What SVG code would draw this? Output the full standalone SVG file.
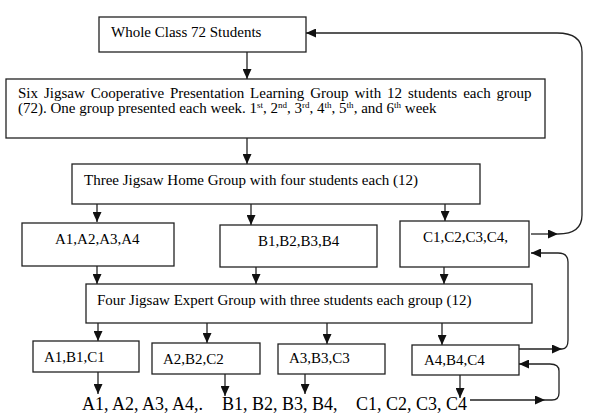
<svg xmlns="http://www.w3.org/2000/svg" width="592" height="413" viewBox="0 0 592 413">
<style>
.box{fill:#fff;stroke:#222;stroke-width:1.3}
.t{font-family:"Liberation Serif","Times New Roman",serif;font-size:15px;fill:#000}
.big{font-family:"Liberation Serif","Times New Roman",serif;font-size:18px;fill:#000}
.sup{font-size:9px}
.c{fill:none;stroke:#222;stroke-width:1.3}
</style>
<defs>
<marker id="ah" markerUnits="userSpaceOnUse" markerWidth="10" markerHeight="9" refX="10" refY="4.5" orient="auto" viewBox="0 0 10 9">
<path d="M0,0 L10,4.5 L0,9 z" fill="#111"/>
</marker>
</defs>
<rect width="592" height="413" fill="#fff"/>
<g id="connectors">
<line class="c" x1="247" y1="52" x2="247" y2="79" marker-end="url(#ah)"/>
<line class="c" x1="247" y1="138" x2="247" y2="164" marker-end="url(#ah)"/>
<line class="c" x1="97" y1="204" x2="97" y2="222" marker-end="url(#ah)"/>
<line class="c" x1="251" y1="204" x2="251" y2="225" marker-end="url(#ah)"/>
<line class="c" x1="445" y1="204" x2="445" y2="221" marker-end="url(#ah)"/>
<line class="c" x1="97" y1="266" x2="97" y2="284" marker-end="url(#ah)"/>
<line class="c" x1="256" y1="267" x2="256" y2="284" marker-end="url(#ah)"/>
<line class="c" x1="444" y1="267" x2="444" y2="284" marker-end="url(#ah)"/>
<line class="c" x1="98" y1="323" x2="98" y2="341" marker-end="url(#ah)"/>
<line class="c" x1="207" y1="323" x2="207" y2="343" marker-end="url(#ah)"/>
<line class="c" x1="327" y1="323" x2="327" y2="344" marker-end="url(#ah)"/>
<line class="c" x1="442" y1="323" x2="442" y2="345" marker-end="url(#ah)"/>
<line class="c" x1="98" y1="372" x2="98" y2="394" marker-end="url(#ah)"/>
<line class="c" x1="225" y1="374" x2="225" y2="396" marker-end="url(#ah)"/>
<line class="c" x1="305" y1="374" x2="305" y2="394" marker-end="url(#ah)"/>
<line class="c" x1="460" y1="375" x2="460" y2="398" marker-end="url(#ah)"/>
<line class="c" x1="531" y1="234" x2="558" y2="234" marker-end="url(#ah)"/>
<path class="c" d="M558,234 Q582,234 582,215 V52 Q582,33 557,33 H306" marker-end="url(#ah)"/>
<line class="c" x1="519" y1="349" x2="562" y2="349" marker-end="url(#ah)"/>
<path class="c" d="M562,349 Q568,349 568,340 V262 Q568,253 558,253 H531" marker-end="url(#ah)"/>
<line class="c" x1="470" y1="400" x2="545" y2="400" marker-end="url(#ah)"/>
<path class="c" d="M545,400 H552 Q559,400 559,393 V371 Q559,364 550,364 H519" marker-end="url(#ah)"/>
</g>
<g id="whole-class">
<rect class="box" x="99" y="17" width="207" height="35"/>
<text class="t" x="111" y="37">Whole Class 72 Students</text>
</g>
<g id="six-jigsaw">
<rect class="box" x="6" y="79" width="539" height="59"/>
<text class="t" x="18" y="98" word-spacing="2.2">Six Jigsaw Cooperative Presentation Learning Group with 12 students each group</text>
<text class="t" x="18" y="113">(72). One group presented each week. 1<tspan class="sup" dy="-5">st</tspan><tspan dy="5">, 2</tspan><tspan class="sup" dy="-5">nd</tspan><tspan dy="5">, 3</tspan><tspan class="sup" dy="-5">rd</tspan><tspan dy="5">, 4</tspan><tspan class="sup" dy="-5">th</tspan><tspan dy="5">, 5</tspan><tspan class="sup" dy="-5">th</tspan><tspan dy="5">, and 6</tspan><tspan class="sup" dy="-5">th</tspan><tspan dy="5"> week</tspan></text>
</g>
<g id="home-group">
<rect class="box" x="72" y="164" width="408" height="40"/>
<text class="t" x="84" y="185">Three Jigsaw Home Group with four students each (12)</text>
</g>
<g id="group-a">
<rect class="box" x="22" y="223" width="152" height="43"/>
<text class="t" x="55" y="244">A1,A2,A3,A4</text>
</g>
<g id="group-b">
<rect class="box" x="220" y="225" width="157" height="42"/>
<text class="t" x="258" y="246">B1,B2,B3,B4</text>
</g>
<g id="group-c">
<rect class="box" x="400" y="221" width="129" height="46"/>
<text class="t" x="423" y="242">C1,C2,C3,C4,</text>
</g>
<g id="expert-group">
<rect class="box" x="86" y="284" width="446" height="39"/>
<text class="t" x="97" y="305">Four Jigsaw Expert Group with three students each group (12)</text>
</g>
<g id="expert-1">
<rect class="box" x="33" y="341" width="106" height="31"/>
<text class="t" x="44" y="362">A1,B1,C1</text>
</g>
<g id="expert-2">
<rect class="box" x="152" y="343" width="108" height="31"/>
<text class="t" x="163" y="364">A2,B2,C2</text>
</g>
<g id="expert-3">
<rect class="box" x="278" y="344" width="107" height="30"/>
<text class="t" x="289" y="363">A3,B3,C3</text>
</g>
<g id="expert-4">
<rect class="box" x="412" y="345" width="107" height="30"/>
<text class="t" x="424" y="365">A4,B4,C4</text>
</g>
<g id="result">
<text class="big" y="410"><tspan x="82">A1, A2, A3, A4,.</tspan><tspan x="222">B1, B2, B3, B4,</tspan><tspan x="356">C1, C2, C3, C4</tspan></text>
</g>
</svg>
